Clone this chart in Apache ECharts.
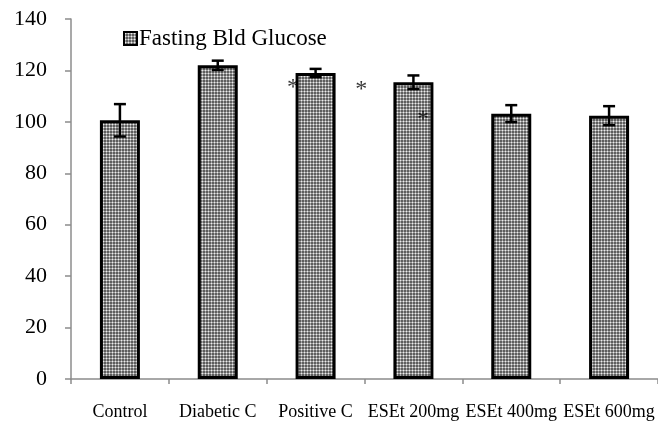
<!DOCTYPE html>
<html>
<head>
<meta charset="utf-8">
<script src="https://cdn.jsdelivr.net/npm/echarts@6/dist/echarts.min.js"></script>
<style>html,body{margin:0;padding:0;background:#fff;}#c{width:658px;height:421px;}</style>
</head>
<body>
<div id="c"></div>
<script>
var categories = ['Control', 'Diabetic C', 'Positive C', 'ESEt 200mg', 'ESEt 400mg', 'ESEt 600mg'];
var glucoseMeans = [100.6, 122.0, 119.0, 115.4, 103.2, 102.4];
var glucoseErrors = [6.3, 1.8, 1.6, 2.65, 3.3, 3.7];
var seriesName = 'Fasting Bld Glucose';
var yTicks = [0, 140, 20];
var starX = [2.268, 2.967, 3.597];
var starY = [115.5, 114.8, 103.2];

var pc = document.createElement('canvas');
pc.width = 3; pc.height = 3;
var pctx = pc.getContext('2d');
var tile = [['#5e5e5e', '#a4a4a4', '#5e5e5e'], ['#a4a4a4', '#ececec', '#a4a4a4'], ['#5e5e5e', '#a4a4a4', '#5e5e5e']];
for (var r = 0; r < 3; r++) for (var c = 0; c < 3; c++) { pctx.fillStyle = tile[r][c]; pctx.fillRect(c, r, 1, 1); }
var patternFill = { image: pc, repeat: 'repeat' };

var errData = categories.map(function (c, i) { return [i, glucoseMeans[i] - glucoseErrors[i], glucoseMeans[i] + glucoseErrors[i]]; });
var starData = starX.map(function (x, i) { return [x, starY[i]]; });

var chart = echarts.init(document.getElementById('c'), null, { renderer: 'canvas' });
var font = '"Liberation Serif", "Times New Roman", serif';
var axisGray = '#8c8c8c';
chart.setOption({
  animation: false,
  textStyle: { fontFamily: font },
  grid: { left: 71, right: 0, top: 19, bottom: 42 },
  legend: {
    left: 118, top: 22, icon: 'rect',
    itemWidth: 13, itemHeight: 13, itemGap: 10,
    textStyle: { fontFamily: font, fontSize: 23, color: '#000', padding: [0, 0, 0, -3] },
    itemStyle: { borderWidth: 2, borderColor: '#000' },
    data: [seriesName]
  },
  xAxis: [{
    type: 'category', data: categories,
    axisLine: { lineStyle: { color: axisGray, width: 1.5 } },
    axisTick: { show: true, length: 5, alignWithLabel: false, lineStyle: { color: axisGray, width: 1.5 } },
    axisLabel: { interval: 0, fontFamily: font, fontSize: 18, color: '#000', margin: 24 },
    splitLine: { show: false }
  }, {
    type: 'value', min: 0, max: 6, show: false, position: 'top'
  }],
  yAxis: {
    type: 'value', min: yTicks[0], max: yTicks[1], interval: yTicks[2],
    axisLine: { show: true, lineStyle: { color: axisGray, width: 1.5 } },
    axisTick: { show: true, length: 6, lineStyle: { color: axisGray, width: 1.5 } },
    axisLabel: { fontFamily: font, fontSize: 22, color: '#000', margin: 24 },
    splitLine: { show: false }
  },
  series: [{
    name: seriesName, type: 'bar', data: glucoseMeans, barWidth: 40,
    itemStyle: { color: patternFill, borderColor: '#000', borderWidth: 3 },
    z: 2
  }, {
    type: 'custom', data: errData, z: 5, silent: true,
    renderItem: function (params, api) {
      var x = api.value(0);
      var lo = api.coord([x, api.value(1)]);
      var hi = api.coord([x, api.value(2)]);
      var hw = 6;
      var st = { stroke: '#000', lineWidth: 2.5 };
      return { type: 'group', children: [
        { type: 'line', shape: { x1: lo[0], y1: lo[1], x2: hi[0], y2: hi[1] }, style: st },
        { type: 'line', shape: { x1: hi[0] - hw, y1: hi[1], x2: hi[0] + hw, y2: hi[1] }, style: st },
        { type: 'line', shape: { x1: lo[0] - hw, y1: lo[1], x2: lo[0] + hw, y2: lo[1] }, style: st }
      ]};
    }
  }, {
    type: 'scatter', xAxisIndex: 1, data: starData, symbolSize: 0, z: 6, silent: true,
    label: { show: true, position: 'inside', formatter: '*', fontFamily: font, fontSize: 24, color: '#000', offset: [0, 6] }
  }]
});
</script>
</body>
</html>
